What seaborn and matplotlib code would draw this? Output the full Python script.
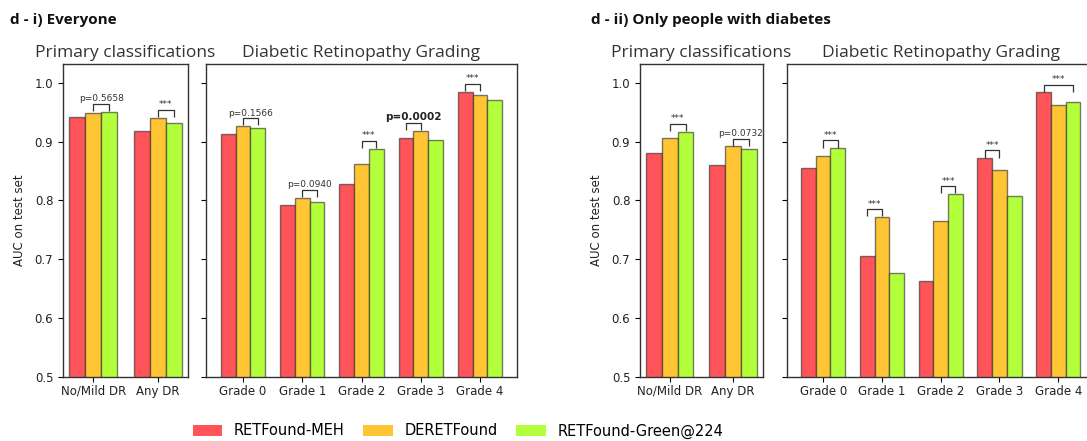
import matplotlib
matplotlib.use("Agg")
import matplotlib.pyplot as plt
from matplotlib.patches import Patch
import seaborn as sns
import pandas as pd

# ---------------- data ----------------
models = ["RETFound-MEH", "DERETFound", "RETFound-Green@224"]
colors = ["#FF545A", "#FFC535", "#B4FF3B"]

primary_cats = ["No/Mild DR", "Any DR"]
grade_cats = ["Grade 0", "Grade 1", "Grade 2", "Grade 3", "Grade 4"]

# d - i) Everyone
all_primary_meh = [0.942, 0.918]
all_primary_dere = [0.949, 0.941]
all_primary_green = [0.951, 0.931]
all_grade_meh = [0.913, 0.793, 0.828, 0.907, 0.985]
all_grade_dere = [0.927, 0.805, 0.862, 0.918, 0.979]
all_grade_green = [0.923, 0.797, 0.888, 0.903, 0.971]

# d - ii) Only people with diabetes
dia_primary_meh = [0.881, 0.861]
dia_primary_dere = [0.906, 0.892]
dia_primary_green = [0.917, 0.887]
dia_grade_meh = [0.856, 0.705, 0.663, 0.872, 0.984]
dia_grade_dere = [0.875, 0.772, 0.766, 0.851, 0.963]
dia_grade_green = [0.889, 0.676, 0.811, 0.807, 0.967]

# significance annotations: (category index, model a, model b, label, bold)
all_primary_sig = [(0, 1, 2, "p=0.5658", False), (1, 1, 2, "***", False)]
all_grade_sig = [(0, 1, 2, "p=0.1566", False), (1, 1, 2, "p=0.0940", False),
                 (2, 1, 2, "***", False), (3, 0, 1, "p=0.0002", True),
                 (4, 0, 1, "***", False)]
dia_primary_sig = [(0, 1, 2, "***", False), (1, 1, 2, "p=0.0732", False)]
dia_grade_sig = [(0, 1, 2, "***", False), (1, 0, 1, "***", False),
                 (2, 1, 2, "***", False), (3, 0, 1, "***", False),
                 (4, 0, 2, "***", False)]


def make_df(cats, a, b, c):
    rows = []
    for m, vals in zip(models, [a, b, c]):
        for cat, v in zip(cats, vals):
            rows.append({"cat": cat, "model": m, "auc": v})
    return pd.DataFrame(rows)


W, H = 1087, 441
fig = plt.figure(figsize=(W / 100, H / 100), dpi=100)

TICK_FS = 8.5
TITLE_FONT = ["Open Sans", "DejaVu Sans"]


def draw_panel(rect, cats, a, b, c, sig, title, xlim, ylabel):
    ax = fig.add_axes(rect)
    df = make_df(cats, a, b, c)
    sns.barplot(data=df, x="cat", y="auc", hue="model", hue_order=models,
                palette=colors, saturation=1, width=0.75,
                edgecolor=(0.15, 0.15, 0.15, 0.6),
                linewidth=1.0, ax=ax, legend=False, errorbar=None)
    ax.set_ylim(0.5, 1.032)
    ax.set_xlim(*xlim)
    ax.set_yticks([0.5, 0.6, 0.7, 0.8, 0.9, 1.0])
    ax.set_xlabel("")
    if ylabel:
        ax.set_ylabel("AUC on test set", fontsize=TICK_FS, color="#222222",
                      labelpad=6)
        ax.tick_params(axis="y", labelsize=TICK_FS)
    else:
        ax.set_ylabel("")
        ax.set_yticklabels([])
    ax.tick_params(axis="x", labelsize=TICK_FS, pad=2)
    for lab in ax.get_xticklabels() + ax.get_yticklabels():
        lab.set_color("#222222")
    for s in ax.spines.values():
        s.set_color("#333333")
        s.set_linewidth(1.0)
    ax.set_title(title, fontsize=12.5, family=TITLE_FONT, color="#333333", pad=5)

    # significance brackets
    for ci, ma, mb, label, bold in sig:
        ra = ax.containers[ma][ci]
        rb = ax.containers[mb][ci]
        xa = ra.get_x() + ra.get_width() / 2
        xb = rb.get_x() + rb.get_width() / 2
        base = max(ra.get_height(), rb.get_height()) + 0.001
        top = base + 0.012
        ax.plot([xa, xa, xb, xb], [base, top, top, base], color="#333333",
                lw=0.9, solid_capstyle="butt")
        if bold:
            ax.text((xa + xb) / 2, top + 0.002, label, ha="center", va="bottom",
                    fontsize=7.5, fontweight="bold", color="#222222")
        else:
            ax.text((xa + xb) / 2, top + 0.001, label, ha="center", va="bottom",
                    fontsize=6.5, color="#333333")
    return ax


bottom = (H - 377) / H
height = (377 - 64) / H

draw_panel([63 / W, bottom, 125 / W, height], primary_cats,
           all_primary_meh, all_primary_dere, all_primary_green,
           all_primary_sig, "Primary classifications", (-0.47, 1.47), True)
draw_panel([205.7 / W, bottom, 311.6 / W, height], grade_cats,
           all_grade_meh, all_grade_dere, all_grade_green,
           all_grade_sig, "Diabetic Retinopathy Grading", (-0.63, 4.63), False)
draw_panel([640 / W, bottom, 122.7 / W, height], primary_cats,
           dia_primary_meh, dia_primary_dere, dia_primary_green,
           dia_primary_sig, "Primary classifications", (-0.47, 1.47), True)
draw_panel([786.7 / W, bottom, 308 / W, height], grade_cats,
           dia_grade_meh, dia_grade_dere, dia_grade_green,
           dia_grade_sig, "Diabetic Retinopathy Grading", (-0.62, 4.62), False)

fig.text(10 / W, 1 - 20 / H, "d - i) Everyone", fontsize=11, fontweight="bold",
         family=TITLE_FONT, ha="left", va="center", color="#111111")
fig.text(591 / W, 1 - 20 / H, "d - ii) Only people with diabetes", fontsize=11,
         fontweight="bold", family=TITLE_FONT, ha="left", va="center",
         color="#111111")

handles = [Patch(facecolor=c, edgecolor="none", label=m) for m, c in zip(models, colors)]
fig.legend(handles=handles, loc="center", bbox_to_anchor=(458 / W, 1 - 431 / H),
           ncol=3, frameon=False, fontsize=10.5, handlelength=2.0,
           handleheight=0.8, handletextpad=0.8, columnspacing=1.3)

fig.savefig("out.png", dpi=100)
